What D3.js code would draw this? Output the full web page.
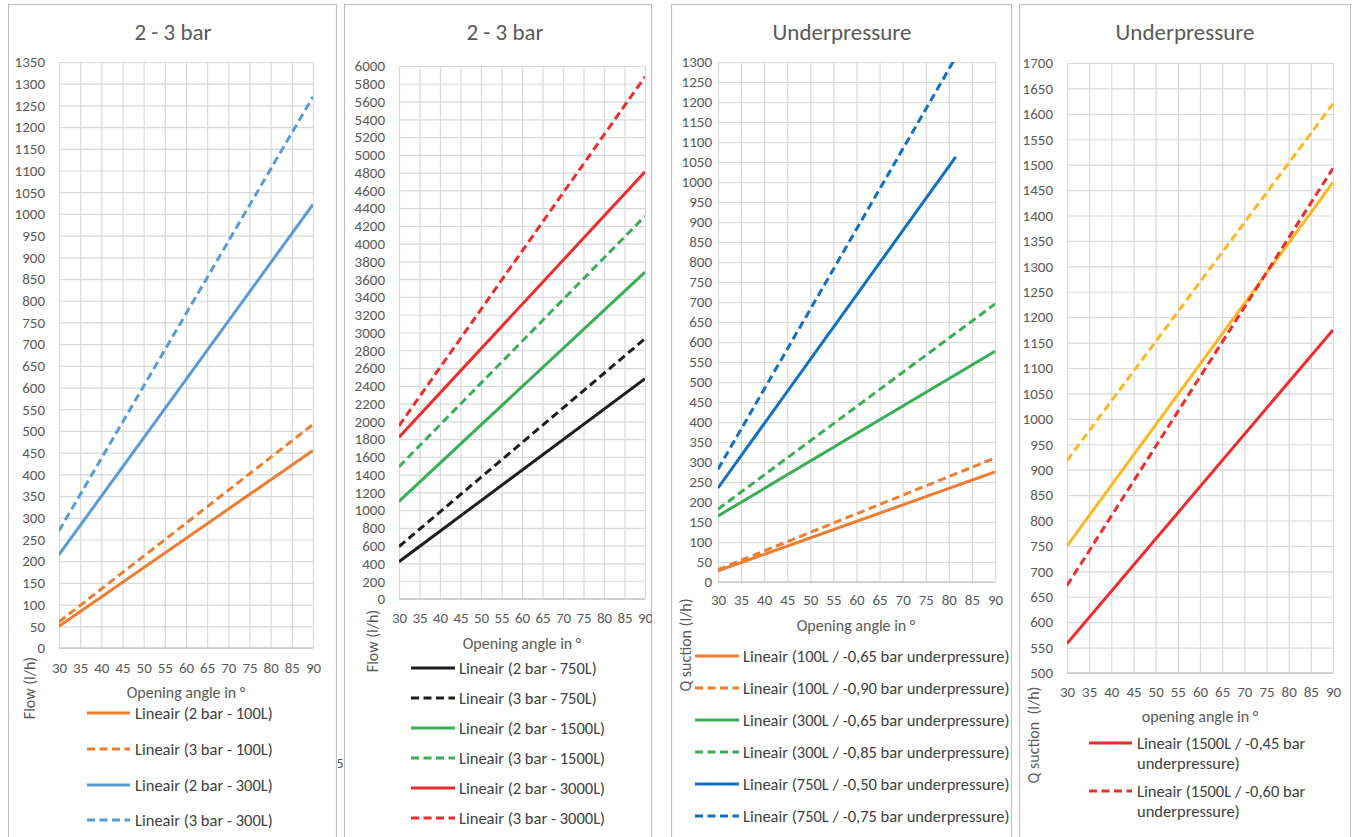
<!DOCTYPE html>
<html>
<head>
<meta charset="utf-8">
<script src="https://cdn.jsdelivr.net/npm/d3@7"></script>
<style>
  html, body { margin: 0; padding: 0; background: #fff; }
  svg { display: block; font-family: Carlito, Lato, sans-serif; }
</style>
</head>
<body>
<svg id="chart" width="1354" height="837"></svg>
<script>
// opening angle ticks, shared by all four charts
const angleTicks = [30, 35, 40, 45, 50, 55, 60, 65, 70, 75, 80, 85, 90];

// chart 1: 2 - 3 bar, small tanks
const smallNames = ["Lineair (2 bar - 100L)", "Lineair (3 bar - 100L)", "Lineair (2 bar - 300L)", "Lineair (3 bar - 300L)"];
const smallAngles = [[30, 90], [30, 90], [30, 90], [30, 90]];
const smallFlow = [[50, 455], [60, 515], [215, 1022], [270, 1270]];

// chart 2: 2 - 3 bar, large tanks
const largeNames = ["Lineair (2 bar - 750L)", "Lineair (3 bar - 750L)", "Lineair (2 bar - 1500L)",
    "Lineair (3 bar - 1500L)", "Lineair (2 bar - 3000L)", "Lineair (3 bar - 3000L)"];
const largeAngles = [[30, 90], [30, 90], [30, 90], [30, 90], [30, 90], [30, 90]];
const largeFlow = [[420, 2480], [590, 2930], [1100, 3680], [1490, 4310], [1820, 4810], [1950, 5880]];

// chart 3: underpressure, 100L - 750L
const suctionNames = ["Lineair (100L / -0,65 bar underpressure)", "Lineair (100L / -0,90 bar underpressure)",
    "Lineair (300L / -0,65 bar underpressure)", "Lineair (300L / -0,85 bar underpressure)",
    "Lineair (750L / -0,50 bar underpressure)", "Lineair (750L / -0,75 bar underpressure)"];
const suctionAngles = [[30, 90], [30, 90], [30, 90], [30, 90], [30, 81.5], [30, 81.5]];
const suctionFlow = [[28, 275], [31, 310], [165, 577], [182, 695], [235, 1063], [282, 1312]];

// chart 4: underpressure, 1500L (the two yellow series have no legend entry)
const bigSuctionNames = ["", "", "Lineair (1500L / -0,45 bar|underpressure)", "Lineair (1500L / -0,60 bar|underpressure)"];
const bigSuctionAngles = [[30, 90], [30, 90], [30, 90], [30, 90]];
const bigSuctionFlow = [[750, 1465], [918, 1620], [558, 1175], [672, 1493]];

const ORANGE = "#ED7D31", BLUE = "#5B9BD5", BLACK = "#1E1E1E", GREEN = "#3AAE56",
      RED = "#EE2C2C", DARKBLUE = "#1170BF", YELLOW = "#FFB623";

const panels = [
    {
        title: "2 - 3 bar", xTitle: "Opening angle in °", yTitle: "Flow (l/h)",
        names: smallNames, angles: smallAngles, values: smallFlow,
        colors: [ORANGE, ORANGE, BLUE, BLUE], dashed: [false, true, false, true],
        yDomain: [0, 1350], yStep: 50,
        box: [8, 337], plot: {l: 59, r: 313, t: 62, b: 648},
        yLabelX: 45, xLabelY: 668, titleX: 173, xTitlePos: [186, 692], yTitlePos: [29, 688],
        legendRows: [713, 749, 785, 820], legendSample: [87, 130], legendText: 135
    },
    {
        title: "2 - 3 bar", xTitle: "Opening angle in °", yTitle: "Flow (l/h)",
        names: largeNames, angles: largeAngles, values: largeFlow,
        colors: [BLACK, BLACK, GREEN, GREEN, RED, RED], dashed: [false, true, false, true, false, true],
        yDomain: [0, 6000], yStep: 200,
        box: [344, 652], plot: {l: 399, r: 645, t: 66, b: 599},
        yLabelX: 385, xLabelY: 618, titleX: 505, xTitlePos: [522, 643], yTitlePos: [372, 641],
        legendRows: [668, 698, 728, 758, 788, 818], legendSample: [411, 455], legendText: 459
    },
    {
        title: "Underpressure", xTitle: "Opening angle in °", yTitle: "Q suction (l/h)",
        names: suctionNames, angles: suctionAngles, values: suctionFlow,
        colors: [ORANGE, ORANGE, GREEN, GREEN, DARKBLUE, DARKBLUE], dashed: [false, true, false, true, false, true],
        yDomain: [0, 1300], yStep: 50,
        box: [671, 1012], plot: {l: 718, r: 995, t: 62, b: 582},
        yLabelX: 712, xLabelY: 600, titleX: 842, xTitlePos: [856, 625], yTitlePos: [685, 645],
        legendRows: [656, 688, 720, 752, 784, 816], legendSample: [695, 739], legendText: 743
    },
    {
        title: "Underpressure", xTitle: "opening angle in °", yTitle: "Q suction  (l/h)",
        names: bigSuctionNames, angles: bigSuctionAngles, values: bigSuctionFlow,
        colors: [YELLOW, YELLOW, RED, RED], dashed: [false, true, false, true],
        yDomain: [500, 1700], yStep: 50,
        box: [1019, 1351], plot: {l: 1067, r: 1333, t: 63, b: 673},
        yLabelX: 1053, xLabelY: 692, titleX: 1185, xTitlePos: [1200, 716], yTitlePos: [1033, 735],
        legendRows: [null, null, 743, 791], legendSample: [1089, 1132], legendText: 1137
    }
];

const svg = d3.select("#chart");
const defs = svg.append("defs");
const TEXT = "#595959";
const tickFont = 15;

panels.forEach((p, pi) => {
    const boxTop = 4;
    defs.append("clipPath").attr("id", `box-${pi}`)
        .append("rect")
        .attr("x", p.box[0]).attr("y", boxTop)
        .attr("width", p.box[1] - p.box[0]).attr("height", 900);
    defs.append("clipPath").attr("id", `plot-${pi}`)
        .append("rect")
        .attr("x", p.plot.l).attr("y", p.plot.t)
        .attr("width", p.plot.r - p.plot.l).attr("height", p.plot.b - p.plot.t);

    const g = svg.append("g").attr("clip-path", `url(#box-${pi})`);

    g.append("rect")
        .attr("x", p.box[0] + 0.5).attr("y", boxTop + 0.5)
        .attr("width", p.box[1] - p.box[0] - 1).attr("height", 900)
        .attr("fill", "#fff")
        .attr("stroke", "#BFBFBF")
        .attr("stroke-width", 1.2);

    const x = d3.scaleLinear().domain([30, 90]).range([p.plot.l, p.plot.r]);
    const y = d3.scaleLinear().domain(p.yDomain).range([p.plot.b, p.plot.t]);
    const yTicks = d3.range(p.yDomain[0], p.yDomain[1] + p.yStep / 2, p.yStep);

    const xAxis = g.append("g")
        .attr("class", "x axis")
        .attr("transform", `translate(0, ${p.plot.b})`)
        .call(d3.axisBottom(x)
            .tickValues(angleTicks)
            .tickSize(-(p.plot.b - p.plot.t))
            .tickPadding(p.xLabelY - p.plot.b - 0.36 * tickFont)
            .tickFormat(d3.format("d")));

    const yAxis = g.append("g")
        .attr("class", "y axis")
        .attr("transform", `translate(${p.plot.l}, 0)`)
        .call(d3.axisLeft(y)
            .tickValues(yTicks)
            .tickSize(-(p.plot.r - p.plot.l))
            .tickPadding(p.plot.l - p.yLabelX)
            .tickFormat(d3.format("d")));

    [xAxis, yAxis].forEach(axis => {
        axis.select(".domain").remove();
        axis.selectAll("line").attr("stroke", "#D9D9D9").attr("stroke-width", 1.2);
        axis.selectAll("text")
            .attr("fill", TEXT)
            .style("font-size", tickFont + "px")
            .style("font-family", "Carlito, Lato, sans-serif");
    });

    g.append("line")
        .attr("x1", p.plot.l).attr("x2", p.plot.r)
        .attr("y1", p.plot.b).attr("y2", p.plot.b)
        .attr("stroke", "#C8C8C8").attr("stroke-width", 1.4);

    // title and axis titles
    g.append("text")
        .attr("x", p.titleX).attr("y", 32).attr("dy", "0.35em")
        .attr("text-anchor", "middle")
        .attr("fill", TEXT)
        .style("font-size", "23px")
        .text(p.title);

    g.append("text")
        .attr("x", p.xTitlePos[0]).attr("y", p.xTitlePos[1]).attr("dy", "0.35em")
        .attr("text-anchor", "middle")
        .attr("fill", TEXT)
        .style("font-size", "16px")
        .text(p.xTitle);

    g.append("text")
        .attr("transform", `translate(${p.yTitlePos[0]}, ${p.yTitlePos[1]}) rotate(-90)`)
        .attr("dy", "0.35em")
        .attr("text-anchor", "middle")
        .attr("fill", TEXT)
        .style("font-size", "16px")
        .style("white-space", "pre")
        .text(p.yTitle);

    // trend lines
    const lineGen = d3.line().x(d => x(d[0])).y(d => y(d[1]));
    const lines = g.append("g").attr("clip-path", `url(#plot-${pi})`);
    p.values.forEach((vals, i) => {
        const pts = vals.map((v, k) => [p.angles[i][k], v]);
        lines.append("path")
            .attr("d", lineGen(pts))
            .attr("fill", "none")
            .attr("stroke", p.colors[i])
            .attr("stroke-width", 3)
            .attr("stroke-dasharray", p.dashed[i] ? "8,4.5" : null);
    });

    // legend
    p.names.forEach((name, i) => {
        if (!name) return;
        const ly = p.legendRows[i];
        g.append("line")
            .attr("x1", p.legendSample[0]).attr("x2", p.legendSample[1])
            .attr("y1", ly).attr("y2", ly)
            .attr("stroke", p.colors[i])
            .attr("stroke-width", 3)
            .attr("stroke-dasharray", p.dashed[i] ? "8,4.5" : null);
        const t = g.append("text")
            .attr("y", ly)
            .attr("fill", "#404040")
            .style("font-size", "16.5px");
        name.split("|").forEach((part, k) => {
            t.append("tspan")
                .attr("x", p.legendText)
                .attr("dy", k === 0 ? "0.35em" : "20px")
                .text(part);
        });
    });
});

// fragment of a hidden label peeking out between the first two charts
defs.append("clipPath").attr("id", "gap-clip")
    .append("rect").attr("x", 338).attr("y", 740).attr("width", 6).attr("height", 40);
svg.append("text")
    .attr("clip-path", "url(#gap-clip)")
    .attr("x", 336).attr("y", 768)
    .attr("fill", TEXT)
    .style("font-size", "15px")
    .text("5");
</script>
</body>
</html>
